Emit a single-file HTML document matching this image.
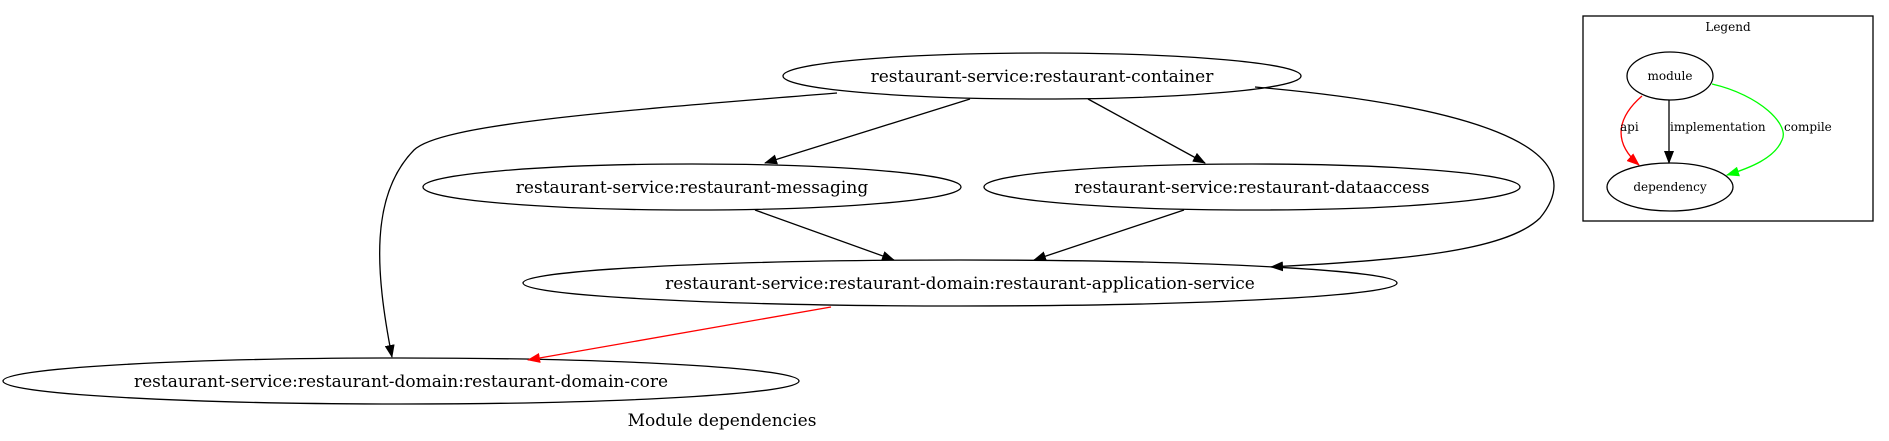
<!DOCTYPE html>
<html><head><meta charset="utf-8"><style>
html,body{margin:0;padding:0;background:#fff;}
svg{display:block;}
text{font-family:"DejaVu Serif","Liberation Serif",serif;fill:#000;}
</style></head><body>
<svg width="1889" height="441" viewBox="0 0 1889 441" xmlns="http://www.w3.org/2000/svg">
<defs>
<marker id="ab" markerWidth="13" markerHeight="10" refX="12" refY="5" orient="auto" markerUnits="userSpaceOnUse"><path d="M0,0 L13,5 L0,10 z" fill="#000"/></marker>
<marker id="ar" markerWidth="13" markerHeight="10" refX="12" refY="5" orient="auto" markerUnits="userSpaceOnUse"><path d="M0,0 L13,5 L0,10 z" fill="#f00"/></marker>
<marker id="ag" markerWidth="13" markerHeight="10" refX="12" refY="5" orient="auto" markerUnits="userSpaceOnUse"><path d="M0,0 L13,5 L0,10 z" fill="#0f0"/></marker>
</defs>
<g fill="none" stroke="#000" stroke-width="1.3">
<ellipse cx="1042" cy="76" rx="259" ry="23"/>
<ellipse cx="692" cy="187" rx="269" ry="23"/>
<ellipse cx="1252" cy="187" rx="268" ry="23"/>
<ellipse cx="960" cy="283" rx="437" ry="23"/>
<ellipse cx="401" cy="381" rx="398" ry="23"/>
<path d="M970,99 L765,163" marker-end="url(#ab)"/>
<path d="M1088,99 L1205,163" marker-end="url(#ab)"/>
<path d="M837,93 C600,112 440,125 414,150 C370,195 375,270 392,357" marker-end="url(#ab)"/>
<path d="M1255,87 C1460,105 1600,145 1540,218 C1505,252 1400,260 1271,267" marker-end="url(#ab)"/>
<path d="M755,210 L894,260" marker-end="url(#ab)"/>
<path d="M1184,210 L1034,260" marker-end="url(#ab)"/>
<path d="M831,307 L528,360" stroke="#f00" marker-end="url(#ar)"/>
<rect x="1583" y="16" width="290" height="205"/>
<ellipse cx="1670" cy="76" rx="43" ry="24"/>
<ellipse cx="1670" cy="187" rx="63" ry="24"/>
<path d="M1642,96 C1620,115 1610,140 1639,165" stroke="#f00" marker-end="url(#ar)"/>
<path d="M1669,100 L1669,163" marker-end="url(#ab)"/>
<path d="M1712,84 C1760,95 1790,125 1782,140 C1775,158 1750,168 1727,175" stroke="#0f0" marker-end="url(#ag)"/>
</g>
<g font-size="17" text-anchor="middle">
<text x="1042" y="82">restaurant-service:restaurant-container</text>
<text x="692" y="193">restaurant-service:restaurant-messaging</text>
<text x="1252" y="193">restaurant-service:restaurant-dataaccess</text>
<text x="960" y="289">restaurant-service:restaurant-domain:restaurant-application-service</text>
<text x="401" y="387">restaurant-service:restaurant-domain:restaurant-domain-core</text>
<text x="722" y="426">Module dependencies</text>
</g>
<g font-size="12" text-anchor="middle">
<text x="1728" y="31">Legend</text>
<text x="1670" y="80">module</text>
<text x="1670" y="191">dependency</text>
</g>
<g font-size="12">
<text x="1620" y="131">api</text>
<text x="1670" y="131">implementation</text>
<text x="1784" y="131">compile</text>
</g>
</svg>
</body></html>
